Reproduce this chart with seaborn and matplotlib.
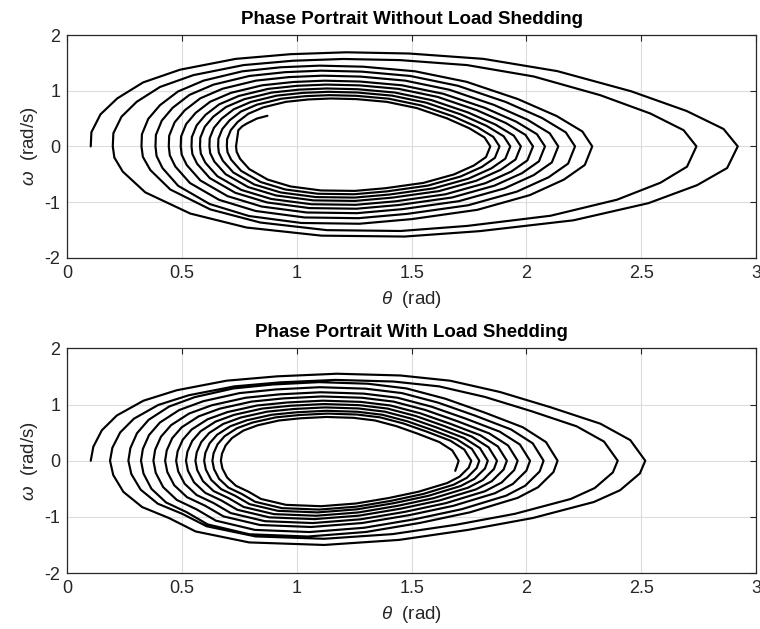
import matplotlib
matplotlib.use("Agg")
import matplotlib.pyplot as plt
import numpy as np
import pandas as pd
import seaborn as sns

# ---------------- data ----------------
# Without load shedding: successive turning points (theta where omega = 0)
nols_turns = [0.102, 2.921, 0.198, 2.741, 0.323, 2.287, 0.384, 2.212, 0.442, 2.139,
              0.494, 2.081, 0.541, 2.029, 0.578, 1.976, 0.619, 1.930, 0.657, 1.883,
              0.695, 1.843, 0.735]
# peak omega of each half swing between those turning points
nols_peaks = [1.69, -1.62, 1.57, -1.52, 1.45, -1.39, 1.36, -1.29, 1.27, -1.20, 1.18,
              -1.12, 1.11, -1.05, 1.04, -0.98, 0.98, -0.92, 0.92, -0.86, 0.86, -0.80]
nols_tail_theta = [0.745, 0.762, 0.782, 0.826, 0.872]
nols_tail_omega = [0.29, 0.36, 0.41, 0.50, 0.55]
# shape of a half swing read from the outer loops (fraction of travel, fraction of peak)
nols_up_frac = [0, 0.001, 0.015, 0.041, 0.081, 0.138, 0.224, 0.309, 0.395, 0.492,
                0.607, 0.721, 0.835, 0.921, 0.978, 1.0]
nols_up_level = [0, 0.15, 0.34, 0.51, 0.68, 0.815, 0.93, 0.98, 1.0, 0.987,
                 0.93, 0.80, 0.586, 0.376, 0.185, 0]
nols_lo_frac = [0, 0.017, 0.065, 0.143, 0.263, 0.413, 0.533, 0.666, 0.786, 0.876,
                0.948, 0.984, 0.9975, 1.0]
nols_lo_level = [0, 0.24, 0.43, 0.63, 0.82, 0.94, 1.0, 0.99, 0.90, 0.745,
                 0.51, 0.28, 0.124, 0]

# With load shedding
ls_turns = [0.102, 2.518, 0.186, 2.398, 0.266, 2.136, 0.321, 2.075, 0.375, 2.016,
            0.426, 1.962, 0.474, 1.915, 0.517, 1.872, 0.558, 1.832, 0.596, 1.795,
            0.632, 1.760, 0.669, 1.705]
ls_peaks = [1.55, -1.50, 1.44, -1.39, 1.40, -1.35, 1.31, -1.27, 1.22, -1.18, 1.145,
            -1.11, 1.07, -1.04, 1.01, -0.98, 0.95, -0.92, 0.89, -0.87, 0.84, -0.81, 0.78]
ls_tail_theta = [1.698, 1.690]
ls_tail_omega = [-0.09, -0.18]
ls_up_frac = [0, 0.0046, 0.02, 0.047, 0.095, 0.155, 0.245, 0.336, 0.444, 0.558,
              0.648, 0.738, 0.829, 0.919, 0.973, 1.0]
ls_up_level = [0, 0.16, 0.35, 0.52, 0.69, 0.81, 0.92, 0.97, 1.0, 0.98,
               0.92, 0.79, 0.615, 0.426, 0.237, 0]
ls_lo_frac = [0, 0.01, 0.047, 0.096, 0.21, 0.33, 0.46, 0.60, 0.74, 0.84,
              0.89, 0.94, 0.975, 0.994, 1.0]
ls_lo_level = [0, 0.15, 0.35, 0.49, 0.68, 0.82, 0.94, 1.0, 0.97, 0.84,
               0.68, 0.55, 0.37, 0.17, 0]

titles = ["Phase Portrait Without Load Shedding", "Phase Portrait With Load Shedding"]
x_ticks = [0, 0.5, 1, 1.5, 2, 2.5, 3]
x_tick_labels = ["0", "0.5", "1", "1.5", "2", "2.5", "3"]
y_ticks = [-2, -1, 0, 1, 2]
y_tick_labels = ["-2", "-1", "0", "1", "2"]


def trajectory(turns, peaks, up_f, up_l, lo_f, lo_l, tail_t, tail_o):
    th, om = [turns[0]], [0.0]
    for k, p in enumerate(peaks):
        a, b = turns[k], turns[k + 1]
        f, l = (up_f, up_l) if p > 0 else (lo_f, lo_l)
        for ff, ll in zip(f[1:], l[1:]):
            th.append(a + ff * (b - a))
            om.append(ll * p)
    th += list(tail_t)
    om += list(tail_o)
    return pd.DataFrame({"theta": th, "omega": om})


df_nols = trajectory(nols_turns, nols_peaks, nols_up_frac, nols_up_level,
                     nols_lo_frac, nols_lo_level, nols_tail_theta, nols_tail_omega)
df_ls = trajectory(ls_turns, ls_peaks, ls_up_frac, ls_up_level,
                   ls_lo_frac, ls_lo_level, ls_tail_theta, ls_tail_omega)

# ---------------- drawing ----------------
sns.set_theme(style="whitegrid")
plt.rcParams['font.family'] = ['Liberation Sans', 'DejaVu Sans']
plt.rcParams['mathtext.fontset'] = 'custom'
plt.rcParams['mathtext.rm'] = 'Liberation Sans'
plt.rcParams['mathtext.it'] = 'Liberation Sans:italic'

fig = plt.figure(figsize=(7.6, 6.29), dpi=100)
fig.patch.set_facecolor("white")
ax1 = fig.add_axes([0.0886, 0.5903, 0.906, 0.354])
ax2 = fig.add_axes([0.0886, 0.0890, 0.906, 0.357])

for ax, df, title in [(ax1, df_nols, titles[0]), (ax2, df_ls, titles[1])]:
    sns.lineplot(data=df, x="theta", y="omega", sort=False, estimator=None,
                 color="black", linewidth=1.55, ax=ax)
    ax.set_facecolor("white")
    ax.set_xlim(0, 3)
    ax.set_ylim(-2, 2)
    ax.set_xticks(x_ticks)
    ax.set_xticklabels(x_tick_labels)
    ax.set_yticks(y_ticks)
    ax.set_yticklabels(y_tick_labels)
    ax.grid(True, color="#dcdcdc", linewidth=0.8)
    for s in ax.spines.values():
        s.set_visible(True)
        s.set_color("#262626")
        s.set_linewidth(0.9)
    ax.tick_params(direction="in", top=True, right=True, length=4, width=0.8,
                   color="#262626", labelsize=13, labelcolor="#262626", pad=5)
    ax.set_xlabel(r"$\theta$  (rad)", fontsize=13.5, color="#262626", labelpad=5)
    ax.set_ylabel(r"$\omega$  (rad/s)", fontsize=13.5, color="#262626", labelpad=3)
    ax.set_title(title, fontsize=13.5, fontweight="bold", color="black", pad=8)

fig.savefig("out.png", dpi=100, facecolor="white")
